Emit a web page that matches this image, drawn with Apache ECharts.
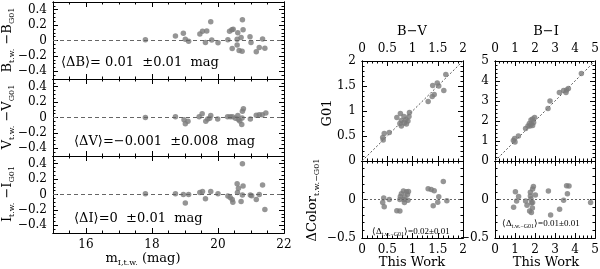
<!DOCTYPE html>
<html><head><meta charset="utf-8">
<script src="https://cdn.jsdelivr.net/npm/echarts@6/dist/echarts.min.js"></script>
<style>html,body{margin:0;padding:0;background:#fff}#c{width:600px;height:269px}</style>
</head><body><div id="c"></div>
<script>
// ---------- data ----------
const bMag  = [17.80,18.71,18.95,19.01,19.11,19.45,19.53,19.66,19.62,19.78,19.81,20.00,20.30,20.35,20.42,20.46,20.43,20.60,20.58,20.58,20.64,20.73,20.74,20.76,20.70,20.97,21.00,21.16,21.25,21.35,21.42];
const bDiff = [0.01,0.06,0.095,0.015,-0.01,0.085,0.12,0.125,-0.025,0.245,0.005,-0.03,0.01,0.12,0.14,0.145,-0.105,0.10,0.015,-0.06,-0.13,-0.14,0.27,0.14,0.04,0.05,-0.025,-0.145,-0.09,0.02,-0.10];
const vMag  = [17.80,18.71,18.97,19.01,19.09,19.43,19.52,19.63,19.69,19.75,19.78,19.99,20.29,20.37,20.44,20.53,20.60,20.62,20.66,20.72,20.77,20.74,20.73,20.98,21.16,21.25,21.34,21.45];
const vDiff = [0.0,0.01,-0.03,-0.08,-0.05,0.01,0.05,-0.05,-0.02,-0.01,0.025,-0.02,0.01,0.01,0.01,-0.01,0.025,-0.025,-0.045,-0.09,0.115,0.08,-0.005,-0.02,0.03,0.035,0.035,0.06];
const iMag  = [17.80,18.71,18.95,19.01,19.11,19.45,19.53,19.62,19.78,20.00,20.30,20.37,20.43,20.45,20.58,20.59,20.62,20.70,20.74,20.76,20.74,20.98,21.02,21.16,21.25,21.35,21.42];
const iDiff = [0.01,0.01,0.0,-0.11,0.0,0.025,0.04,-0.055,0.04,0.01,-0.02,-0.04,-0.065,-0.10,0.14,0.025,0.08,-0.09,0.40,0.11,-0.005,-0.005,-0.015,-0.065,0.0,0.125,-0.195];

const bvThisWork = [1.66,1.40,1.49,1.52,1.43,1.39,1.31,1.62,0.94,0.76,0.69,0.83,0.87,0.78,0.75,0.84,0.78,0.91,0.93,0.88,0.54,0.44,0.41,0.42];
const bvG01      = [1.73,1.51,1.56,1.50,1.33,1.29,1.19,1.41,0.97,0.95,0.87,0.89,0.83,0.81,0.75,0.76,0.70,0.80,0.89,0.74,0.57,0.55,0.47,0.42];
const bvResX = [0.41,0.44,0.43,0.54,0.69,0.75,0.75,0.76,0.78,0.82,0.83,0.85,0.88,0.90,0.92,0.84,0.91,1.31,1.37,1.43,1.41,1.50,1.52,1.61,1.68];
const bvResY = [-0.04,-0.095,0.02,0.0,-0.145,-0.15,0.0,0.04,0.075,0.11,0.0,0.035,0.10,0.065,0.105,-0.04,-0.01,0.14,0.13,0.115,-0.08,-0.035,0.035,0.235,-0.015];

const biThisWork = [4.32,3.67,3.58,3.43,3.55,3.22,2.75,2.65,1.98,1.88,1.80,1.93,1.82,1.72,1.75,1.88,1.65,1.53,1.17,0.98,0.92,1.00];
const biG01      = [4.38,3.62,3.55,3.53,3.43,3.43,3.00,2.63,2.18,2.10,2.05,1.93,1.85,1.88,1.75,1.78,1.75,1.63,1.25,1.12,1.03,0.95];
const biResX = [0.93,1.02,1.08,1.18,1.53,1.60,1.77,1.77,1.80,1.82,1.73,1.82,1.87,1.88,1.92,1.88,2.02,2.67,2.78,3.23,3.43,3.58,3.70,3.62,4.78];
const biResY = [-0.10,0.10,-0.02,0.04,-0.02,-0.075,0.095,0.045,0.005,-0.045,-0.15,-0.17,-0.11,0.135,0.17,-0.04,0.06,0.11,-0.20,-0.125,-0.01,0.18,0.175,0.075,-0.04];

// tick labels
const magTicks   = [16,18,20,22];
const diffTicks  = [-0.4,-0.2,0,0.2,0.4];
const bvTicks    = [0,0.5,1,1.5,2];
const biTicks    = [0,1,2,3,4,5];
const resTicks   = [-0.5,0,0.5];
const resLabels  = [-0.5,0];

// ---------- helpers ----------
const FONT = 'DejaVu Serif';
const grids = [], xAxes = [], yAxes = [], series = [], graphics = [];
function steps(min, max, step) { const a = []; for (let v = min; v <= max + 1e-9; v += step) a.push(+v.toFixed(4)); return a; }
function fmt(v) { return (v < 0 ? '\u2212' : '') + Math.abs(v); }
function axis(gi, min, max, pos, ticks, len, labels, margin) {
  return {
    type: 'value', gridIndex: gi, min: min, max: max, position: pos,
    axisLine: { show: true, onZero: false, lineStyle: { color: '#000', width: 1 } },
    axisTick: { show: true, inside: true, length: len, customValues: ticks, lineStyle: { color: '#000', width: 1 } },
    axisLabel: labels ? { show: true, customValues: labels, margin: margin, color: '#000', fontFamily: FONT, fontSize: 12, formatter: fmt, hideOverlap: false } : { show: false },
    splitLine: { show: false }, minorTick: { show: false }, minorSplitLine: { show: false }
  };
}
function panel(rect, xr, yr, lab) {
  const gi = grids.length;
  grids.push({ left: rect[0], top: rect[1], width: rect[2], height: rect[3], containLabel: false, outerBoundsMode: 'none' });
  const xi = xAxes.length, yi = yAxes.length;
  xAxes.push(axis(gi, xr.min, xr.max, 'bottom', xr.major, 5, lab.xb, 6));
  xAxes.push(axis(gi, xr.min, xr.max, 'top', xr.major, 5, lab.xt, 6));
  xAxes.push(axis(gi, xr.min, xr.max, 'bottom', steps(xr.min, xr.max, xr.minor), 2.5, null));
  xAxes.push(axis(gi, xr.min, xr.max, 'top', steps(xr.min, xr.max, xr.minor), 2.5, null));
  yAxes.push(axis(gi, yr.min, yr.max, 'left', yr.major, 5, lab.yl, 6));
  yAxes.push(axis(gi, yr.min, yr.max, 'right', yr.major, 5, null));
  yAxes.push(axis(gi, yr.min, yr.max, 'left', steps(yr.min, yr.max, yr.minor), 2.5, null));
  yAxes.push(axis(gi, yr.min, yr.max, 'right', steps(yr.min, yr.max, yr.minor), 2.5, null));
  return { xi: xi, yi: yi };
}
function scatter(p, xs, ys, ref) {
  const s = {
    type: 'scatter', xAxisIndex: p.xi, yAxisIndex: p.yi, symbolSize: 5.5,
    itemStyle: { color: '#7b7b7b' }, data: xs.map((x, i) => [x, ys[i]]), z: 3
  };
  if (ref) s.markLine = { silent: true, symbol: ['none', 'none'], label: { show: false }, animation: false,
    lineStyle: { color: '#666', width: 1, type: ref }, data: [{ yAxis: 0 }] };
  series.push(s);
}
function diag(p, min, max) {
  series.push({ type: 'line', xAxisIndex: p.xi, yAxisIndex: p.yi, symbol: 'none', silent: true,
    lineStyle: { color: '#555', width: 1, type: [2, 2] }, data: [[min, min], [max, max]], z: 2 });
}
const SMALL = 'Liberation Serif';
const RICH = {
  n: { fontFamily: FONT, fontSize: 13, color: '#000' },
  s: { fontFamily: FONT, fontSize: 8, color: '#000', padding: [7, 0, 0, 0] },
  a: { fontFamily: SMALL, fontSize: 9, color: '#000' },
  as: { fontFamily: SMALL, fontSize: 6, color: '#000', padding: [5, 0, 0, 0] }
};
function txt(x, y, text, rot, align) {
  graphics.push({ type: 'text', x: x, y: y, rotation: rot || 0, silent: true,
    style: { text: text, rich: RICH, align: align || 'center', verticalAlign: 'middle', fill: '#000' } });
}

// ---------- panels ----------
const magR  = { min: 15, max: 22, major: magTicks, minor: 0.5 };
const diffR = { min: -0.5, max: 0.5, major: diffTicks, minor: 0.05 };
const pB = panel([53, 2, 231, 77], magR, diffR, { yl: diffTicks });
const pV = panel([53, 79, 231, 77], magR, diffR, { yl: diffTicks });
const pI = panel([53, 156, 231, 77], magR, diffR, { yl: diffTicks, xb: magTicks });
scatter(pB, bMag, bDiff, [4, 3]);
scatter(pV, vMag, vDiff, [4, 3]);
scatter(pI, iMag, iDiff, [4, 3]);

const bvR = { min: 0, max: 2, major: bvTicks, minor: 0.1 };
const biR = { min: 0, max: 5, major: biTicks, minor: 0.2 };
const resR = { min: -0.5, max: 0.5, major: resTicks, minor: 0.1 };
const pBV  = panel([362, 61, 101, 100], bvR, bvR, { xt: bvTicks, yl: bvTicks });
const pBVr = panel([362, 161, 101, 77], bvR, resR, { xb: bvTicks, yl: resLabels });
const pBI  = panel([495, 61, 100, 100], biR, biR, { xt: biTicks, yl: biTicks });
const pBIr = panel([495, 161, 100, 77], biR, resR, { xb: biTicks, yl: resLabels });
diag(pBV, bvR.min, bvR.max);
diag(pBI, biR.min, biR.max);
scatter(pBV, bvThisWork, bvG01);
scatter(pBI, biThisWork, biG01);
scatter(pBVr, bvResX, bvResY, [2, 2]);
scatter(pBIr, biResX, biResY, [2, 2]);

// ---------- texts ----------
txt(8, 40, '{n|B}{s|t.w.}{n| \u2212B}{s|G01}', Math.PI / 2);
txt(8, 117, '{n|V}{s|t.w.}{n| \u2212V}{s|G01}', Math.PI / 2);
txt(8, 194, '{n|I}{s|t.w.}{n| \u2212I}{s|G01}', Math.PI / 2);
txt(143, 259, '{n|m}{s|I,t.w.}{n| (mag)}');
txt(61, 63, '{n|\u27E8\u0394B\u27E9= 0.01  \u00B10.01  mag}', 0, 'left');
txt(74, 142, '{n|\u27E8\u0394V\u27E9=\u22120.001  \u00B10.008  mag}', 0, 'left');
txt(74, 219, '{n|\u27E8\u0394I\u27E9=0  \u00B10.01  mag}', 0, 'left');
txt(412, 32, '{n|B\u2212V}');
txt(546, 32, '{n|B\u2212I}');
txt(412, 263, '{n|This Work}');
txt(546, 263, '{n|This Work}');
txt(328, 113, '{n|G01}', Math.PI / 2);
txt(313, 200, '{n|\u0394Color}{s|t.w.\u2212G01}', Math.PI / 2);
txt(372, 232, '{a|\u27E8\u0394}{as|t.w.\u2212G01}{a|\u27E9=0.02\u00B10.01}', 0, 'left');
txt(502, 224, '{a|\u27E8\u0394}{as|t.w.\u2212G01}{a|\u27E9=0.01\u00B10.01}', 0, 'left');

const chart = echarts.init(document.getElementById('c'), null, { renderer: 'canvas' });
chart.setOption({
  animation: false, backgroundColor: '#fff',
  grid: grids, xAxis: xAxes, yAxis: yAxes, series: series, graphic: graphics
});
</script></body></html>
